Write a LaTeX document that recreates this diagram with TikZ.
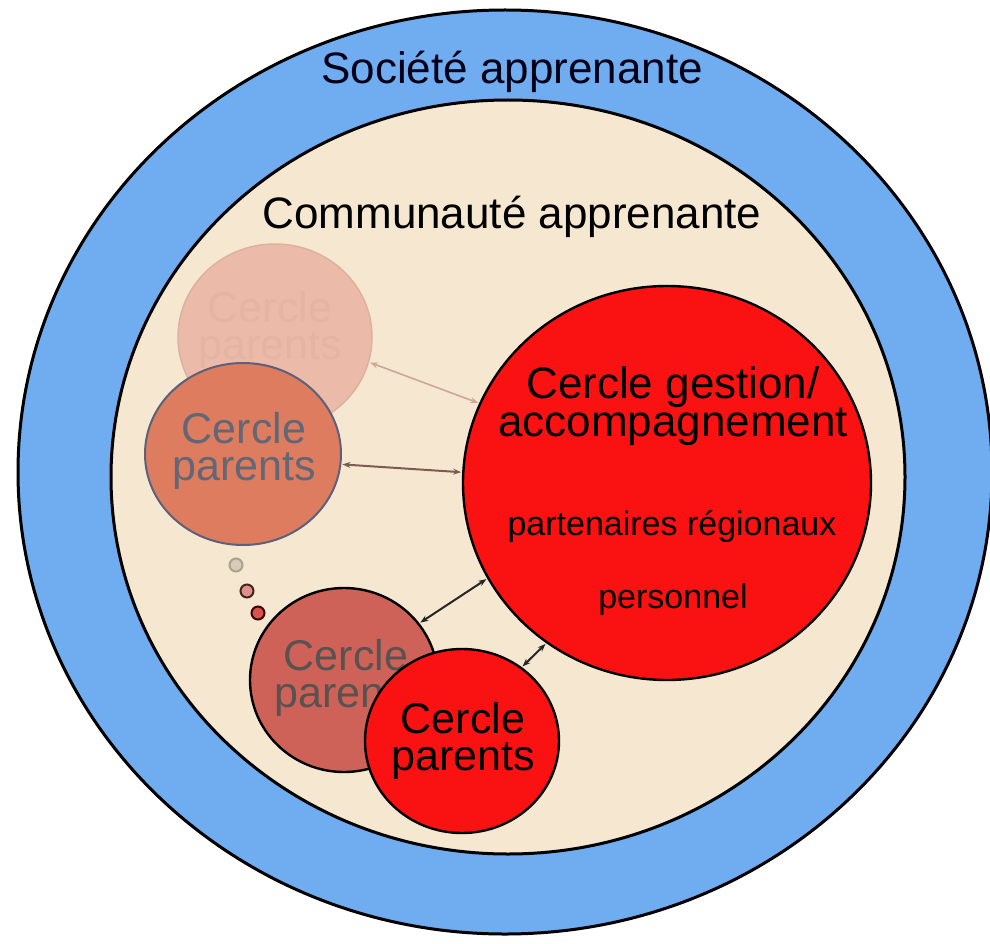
\documentclass[tikz,border=0pt]{standalone}
\usepackage{fontspec}
\setmainfont{Liberation Sans}
\usetikzlibrary{shapes.geometric,arrows.meta}
\definecolor{blueband}{RGB}{112,172,240}
\definecolor{beige}{RGB}{246,232,208}
\definecolor{redbig}{RGB}{250,18,18}
\definecolor{fadedfill}{RGB}{236,186,168}
\definecolor{fadedline}{RGB}{222,176,160}
\definecolor{fadedtext}{RGB}{228,181,163}
\definecolor{orangefill}{RGB}{221,124,94}
\definecolor{orangeline}{RGB}{92,96,122}
\definecolor{orangetext}{RGB}{98,102,118}
\definecolor{rosefill}{RGB}{207,98,88}
\definecolor{rosetext}{RGB}{88,82,80}
\tikzset{
  bubble/.style={ellipse, inner sep=0pt, line width=2.4pt},
  lbl/.style={anchor=base, inner sep=0pt},
  cl/.style={anchor=center, inner sep=0pt, align=center},
  big/.style={font=\fontsize{44}{38}\selectfont},
  mid/.style={font=\fontsize{43}{37}\selectfont},
  small/.style={font=\fontsize{34}{34}\selectfont},
  link/.style={{Stealth[length=8pt,width=6pt]}-{Stealth[length=8pt,width=6pt]}, line width=2pt, shorten <=1pt, shorten >=1pt},
  dot/.style={circle, inner sep=0pt, minimum size=13pt, line width=2pt}
}
\begin{document}
\begin{tikzpicture}[x=1pt,y=-1pt]
\useasboundingbox (0,0) rectangle (990,944);
\fill[white] (0,0) rectangle (990,944);
% outer and inner rings
\node[bubble, draw=black, line width=3pt, fill=blueband, minimum width=974pt, minimum height=924pt] (society) at (505,472) {};
\node[bubble, draw=black, line width=3pt, fill=beige, minimum width=794pt, minimum height=754pt] (community) at (508,477) {};
\node[lbl, big, text=black!90!blue] (tsociety) at (512,84) {Société apprenante};
\node[lbl, big, text=black] (tcommunity) at (512,228) {Communauté apprenante};
% faded circle
\node[bubble, draw=fadedline, line width=1.5pt, fill=fadedfill, minimum width=194pt, minimum height=186pt] (faded) at (275,337) {};
\node[cl, mid, text=fadedtext] (tfaded) at (270,329.5) {Cercle\\parents};
% orange circle
\node[bubble, draw=orangeline, line width=2pt, fill=orangefill, minimum width=196pt, minimum height=182pt] (orange) at (243,454) {};
\node[cl, mid, text=orangetext] (torange) at (244,450.5) {Cercle\\parents};
% big red circle
\node[bubble, draw=black, fill=redbig, minimum width=408pt, minimum height=394pt] (gestion) at (667,483) {};
\node[cl, big] (tg) at (673,406.5) {Cercle gestion/\\accompagnement};
\node[lbl, small] (tg3) at (672,535) {partenaires régionaux};
\node[lbl, small] (tg4) at (673,608) {personnel};
% dots
\node[dot, draw=black!30!beige, fill=black!12!beige] (d1) at (236,565) {};
\node[dot, draw=black!70!orangefill, fill=rosefill!70!white] (d2) at (247,591) {};
\node[dot, draw=black!75!red, fill=rosefill!85!red] (d3) at (258,613) {};
% rose circle
\node[bubble, draw=black, fill=rosefill, minimum width=188pt, minimum height=184pt] (rose) at (344,680) {};
\node[cl, mid, text=rosetext] (trose) at (346,677.5) {Cercle\\parents};
% bright small circle
\node[bubble, draw=black, fill=redbig, minimum width=194pt, minimum height=184pt] (bright) at (462,741) {};
\node[cl, mid] (tbright) at (463,740.5) {Cercle\\parents};
% connectors
\draw[link, draw=fadedline!80!gray, line width=1.6pt] (faded.-15) -- (gestion.157);
\draw[link, draw=black!45!orangefill!60!gray] (orange.-6) -- (gestion.177);
\draw[link, draw=black!85] (rose.37) -- (gestion.208);
\draw[link, draw=black!85] (bright.51) -- (gestion.233);
\end{tikzpicture}
\end{document}
